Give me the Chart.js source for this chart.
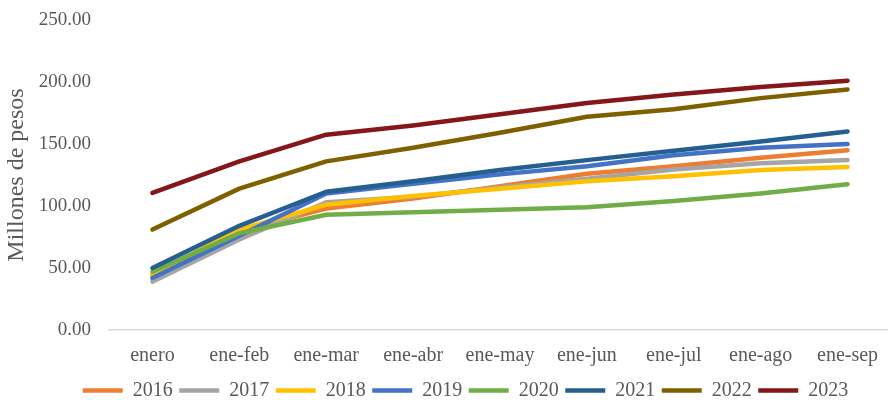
<!DOCTYPE html>
<html lang="es">
<head>
<meta charset="utf-8">
<title>Millones de pesos acumulados</title>
<script src="https://cdn.jsdelivr.net/npm/chart.js@4/dist/chart.umd.min.js"></script>
<style>
  html, body { margin: 0; padding: 0; background: #ffffff; overflow: hidden; }
  #wrap { position: relative; width: 896px; height: 400px; }
</style>
</head>
<body>
<div id="wrap"><canvas id="chart"></canvas></div>
<script>
// Periodos acumulados
const categories = ['enero', 'ene-feb', 'ene-mar', 'ene-abr', 'ene-may', 'ene-jun', 'ene-jul', 'ene-ago', 'ene-sep'];

// Millones de pesos por año
const years = ['2016', '2017', '2018', '2019', '2020', '2021', '2022', '2023'];
const v2016 = [44, 80, 98, 106, 116, 126, 132, 139, 145];
const v2017 = [39, 73, 103, 107.5, 115, 122, 129.5, 134.5, 137];
const v2018 = [45, 81, 101, 108, 114, 120, 124, 129, 131.5];
const v2019 = [42, 76, 110, 118, 125.5, 132, 141, 147, 150];
const v2020 = [47, 78, 93, 95, 97, 99, 104, 110, 117.5];
const v2021 = [50, 84, 111.5, 120, 129, 137, 144.5, 152, 160];
const v2022 = [81, 114, 136, 147, 159, 172, 178, 187, 194];
const v2023 = [110.5, 136, 157.5, 165, 174, 183, 190, 196, 201];
const seriesValues = [v2016, v2017, v2018, v2019, v2020, v2021, v2022, v2023];

const colors = ['#ED7D31', '#A5A5A5', '#FFC000', '#4472C4', '#70AD47', '#255E91', '#7F6000', '#851619'];

// Eje vertical
const yMin = 0;
const yMax = 250;
const yStep = 50;

const serif = '"Liberation Serif", "DejaVu Serif", serif';
const textColor = '#595959';

const datasets = years.map((y, i) => ({
  label: y,
  data: seriesValues[i],
  borderColor: colors[i],
  backgroundColor: colors[i],
  borderWidth: 4.5,
  borderCapStyle: 'round',
  borderJoinStyle: 'round',
  pointRadius: 0,
  pointHoverRadius: 0,
  tension: 0,
  fill: false,
  order: years.length - i
}));

// Desplaza la leyenda horizontalmente
const legendShift = {
  id: 'legendShift',
  afterLayout(chart) {
    const lg = chart.legend;
    if (lg) { lg.left += 20; lg.right += 20; }
  }
};

new Chart(document.getElementById('chart'), {
  type: 'line',
  data: { labels: categories, datasets },
  plugins: [legendShift],
  options: {
    responsive: true,
    maintainAspectRatio: false,
    animation: false,
    layout: { padding: { top: 20, right: 5, left: 0, bottom: 0 } },
    plugins: {
      tooltip: { enabled: false },
      legend: {
        position: 'bottom',
        maxHeight: 26,
        labels: {
          usePointStyle: true,
          pointStyle: 'line',
          pointStyleWidth: 40,
          boxHeight: 5,
          padding: 6.5,
          color: textColor,
          font: { family: serif, size: 20 },
          sort: (a, b) => a.datasetIndex - b.datasetIndex
        }
      }
    },
    scales: {
      x: {
        offset: true,
        grid: { display: false, drawTicks: false, tickLength: 0 },
        border: { display: true, color: '#D9D9D9', width: 1.5 },
        ticks: {
          color: textColor,
          padding: 14,
          maxRotation: 0,
          autoSkip: false,
          font: { family: serif, size: 20 }
        },
        afterFit(scale) { scale.height = 44; }
      },
      y: {
        min: yMin,
        max: yMax,
        grid: { display: false, drawTicks: true, tickLength: 16 },
        border: { display: false },
        ticks: {
          stepSize: yStep,
          color: textColor,
          padding: 2,
          font: { family: serif, size: 19 },
          callback: (v) => Number(v).toFixed(2)
        },
        title: {
          display: true,
          text: 'Millones de pesos',
          color: textColor,
          padding: { top: 2, bottom: 4 },
          font: { family: serif, size: 24 }
        },
        afterFit(scale) { scale.width = 109; }
      }
    }
  }
});
</script>
</body>
</html>
